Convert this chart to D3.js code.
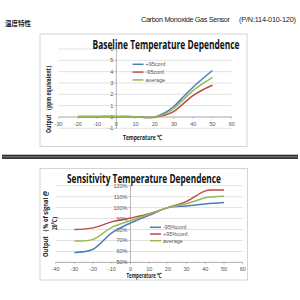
<!DOCTYPE html>
<html>
<head>
<meta charset="utf-8">
<script src="https://d3js.org/d3.v7.min.js"></script>
<style>
  body { margin: 0; background: white; }
  text { font-family: "Liberation Sans", Arial, sans-serif; }
</style>
</head>
<body>
<script>
// ---- data: baseline chart ----
let baseTemps = [-20, -10, 0, 10, 15, 18, 20, 25, 30, 35, 40, 45, 50];
let basePlus  = [0.05, 0.05, 0.05, 0.03, -0.04, -0.05, 0, 0.35, 0.95, 1.8, 2.65, 3.4, 4.1];
let baseMinus = [0.03, 0.03, 0.03, 0.02, -0.04, -0.05, 0, 0.15, 0.5, 1.2, 1.9, 2.4, 2.8];
let baseAvg   = [0.04, 0.04, 0.04, 0.03, -0.04, -0.05, 0, 0.25, 0.75, 1.55, 2.35, 2.95, 3.5];
let baseXTicks = [-30, -20, -10, 0, 10, 20, 30, 40, 50, 60];
let baseYTicks = [-1, 0, 1, 2, 3, 4, 5, 6];

// ---- data: sensitivity chart ----
let sensTemps = [-30, -20, -10, 0, 10, 20, 30, 40, 45, 50];
let sensMinus = [59, 62, 77, 86, 93, 100, 101.5, 103.3, 104, 104.6];
let sensPlus  = [80, 81.5, 87, 90.5, 94.5, 100, 105.7, 115.3, 116, 116];
let sensAvg   = [69.5, 71, 82, 88, 94, 100, 103.6, 109, 110, 110.3];
let sensXTicks = [-40, -30, -20, -10, 0, 10, 20, 30, 40, 50, 60];
let sensYTicks = [50, 60, 70, 80, 90, 100, 110, 120];

let blue = "#4a7ebb", red = "#be4b48", green = "#98b954";

let svg = d3.select("body").append("svg")
    .attr("width", 300)
    .attr("height", 300)
    .style("background-color", "white");

// header
svg.append("text").attr("x", 5).attr("y", 26)
    .style("font-family", "'Noto Sans CJK SC'").style("font-weight", "bold")
    .style("font-size", "6.5px").attr("fill", "#222").text("温度特性");
svg.append("text").attr("x", 141).attr("y", 22).style("font-size", "7.3px")
    .attr("fill", "#222").attr("textLength", 89).text("Carbon Monoxide Gas Sensor");
svg.append("text").attr("x", 239).attr("y", 22).style("font-size", "7.3px")
    .attr("fill", "#222").attr("textLength", 57).text("(P/N:114-010-120)");

// separator
svg.append("rect").attr("x", 2).attr("y", 154.7).attr("width", 296).attr("height", 4.2).attr("fill", "#2a2a2a");
svg.append("line").attr("x1", 2).attr("x2", 298).attr("y1", 156.8).attr("y2", 156.8)
    .attr("stroke", "#8a8a8a").attr("stroke-width", 1);

function chart(o) {
    let g = svg.append("g");
    g.append("rect").attr("x", o.box[0]).attr("y", o.box[1])
        .attr("width", o.box[2] - o.box[0]).attr("height", o.box[3] - o.box[1])
        .attr("fill", "white").attr("stroke", "#d4d4d4").attr("stroke-width", 1);

    let x = d3.scaleLinear().domain(o.xDomain).range(o.xRange);
    let y = d3.scaleLinear().domain(o.yDomain).range(o.yRange);

    // gridlines
    g.selectAll(".grid").data(o.yTicks).enter().append("line")
        .attr("x1", o.xRange[0]).attr("x2", o.xRange[1])
        .attr("y1", d => y(d)).attr("y2", d => y(d))
        .attr("stroke", "#d9d9d9").attr("stroke-width", 0.8);

    // axes lines
    g.append("line").attr("x1", x(0)).attr("x2", x(0))
        .attr("y1", o.yRange[0]).attr("y2", o.yRange[1])
        .attr("stroke", "#a6a6a6").attr("stroke-width", 0.8);
    g.append("line").attr("x1", o.xRange[0]).attr("x2", o.xRange[1])
        .attr("y1", y(o.xAxisAt)).attr("y2", y(o.xAxisAt))
        .attr("stroke", "#a6a6a6").attr("stroke-width", 0.8);

    // tick marks
    g.selectAll(".xt").data(o.xTicks).enter().append("line")
        .attr("x1", d => x(d)).attr("x2", d => x(d))
        .attr("y1", y(o.xAxisAt)).attr("y2", y(o.xAxisAt) + 2)
        .attr("stroke", "#a6a6a6").attr("stroke-width", 0.6);
    g.selectAll(".yt").data(o.yTicks).enter().append("line")
        .attr("x1", x(0) - 2).attr("x2", x(0))
        .attr("y1", d => y(d)).attr("y2", d => y(d))
        .attr("stroke", "#a6a6a6").attr("stroke-width", 0.6);

    // tick labels
    g.selectAll(".xl").data(o.xTicks).enter().append("text")
        .attr("x", d => x(d)).attr("y", o.xLabelY)
        .attr("text-anchor", "middle").style("font-size", "5.5px").attr("fill", "#555")
        .text(d => d);
    g.selectAll(".yl").data(o.yTicks).enter().append("text")
        .attr("x", x(0) - 3).attr("y", d => y(d) + 2)
        .attr("text-anchor", "end").style("font-size", "5.5px").attr("fill", "#555")
        .text(o.yFmt);

    // series
    let line = d3.line().x(d => x(d[0])).y(d => y(d[1])).curve(d3.curveCatmullRom.alpha(0.5));
    o.series.forEach(s => {
        g.append("path").datum(o.temps.map((t, i) => [t, s.values[i]]))
            .attr("d", line).attr("fill", "none")
            .attr("stroke", s.color).attr("stroke-width", 1.5);
    });

    // legend
    o.series.forEach((s, i) => {
        let ly = o.legend[1] + i * o.legendStep;
        g.append("line").attr("x1", o.legend[0]).attr("x2", o.legend[0] + 11)
            .attr("y1", ly).attr("y2", ly).attr("stroke", s.color).attr("stroke-width", 1.5);
        g.append("text").attr("x", o.legend[0] + 13).attr("y", ly + 2)
            .style("font-size", "5.5px").attr("fill", "#555").text(s.name);
    });

    // title
    g.append("text").attr("x", o.title[0]).attr("y", o.title[1]).attr("text-anchor", "middle")
        .style("font-family", "'Open Sans', sans-serif").style("font-weight", "bold")
        .style("font-size", "11.5px").attr("fill", "#111")
        .attr("textLength", o.title[2]).attr("lengthAdjust", "spacingAndGlyphs")
        .text(o.title[3]);

    // x label
    g.append("text").attr("x", o.xLab[0]).attr("y", o.xLab[1]).attr("text-anchor", "middle")
        .style("font-family", "'Open Sans', sans-serif").style("font-weight", "bold")
        .style("font-size", "7px").attr("fill", "#222")
        .attr("textLength", o.xLab[2]).attr("lengthAdjust", "spacingAndGlyphs")
        .text("Temperature ℃");

    // y label (rotated, possibly multi-line)
    o.yLab.forEach(l => {
        g.append("text").attr("transform", `translate(${l[0]},${l[1]}) rotate(-90)`)
            .attr("text-anchor", "middle")
            .style("font-family", "'Open Sans', sans-serif").style("font-weight", "bold")
            .style("font-size", "6.8px").attr("fill", "#222")
            .attr("textLength", l[2]).attr("lengthAdjust", "spacingAndGlyphs")
            .text(l[3]);
    });
}

chart({
    box: [40, 34, 247, 146.5],
    xDomain: [-30, 60], xRange: [58.7, 231.7],
    yDomain: [-1, 6], yRange: [128.3, 49],
    xAxisAt: 0,
    xTicks: baseXTicks, yTicks: baseYTicks,
    xLabelY: 126, yFmt: d => d,
    temps: baseTemps,
    series: [
        { name: "+95conf.", color: blue, values: basePlus },
        { name: "-95conf.", color: red, values: baseMinus },
        { name: "average", color: green, values: baseAvg }
    ],
    legend: [132.5, 64.3, 7.8],
    legendStep: 7.8,
    title: [166, 48.5, 147, "Baseline Temperature Dependence"],
    xLab: [142.5, 140, 39],
    yLab: [[51, 98, 70, "Output （ppm equivalent）"]]
});

chart({
    box: [40, 168.5, 247.5, 280],
    xDomain: [-40, 60], xRange: [55.7, 242.7],
    yDomain: [50, 120], yRange: [262.4, 185.7],
    xAxisAt: 50,
    xTicks: sensXTicks, yTicks: sensYTicks,
    xLabelY: 271, yFmt: d => d + "%",
    temps: sensTemps,
    series: [
        { name: "-95%conf.", color: blue, values: sensMinus },
        { name: "+95%conf.", color: red, values: sensPlus },
        { name: "average", color: green, values: sensAvg }
    ],
    legend: [150, 227.3, 6.7],
    legendStep: 6.7,
    title: [144, 183, 154, "Sensitivity Temperature Dependence"],
    xLab: [144, 278, 35],
    yLab: [[48, 224, 66, "Output （% of signal @"], [56.5, 222, 16, "20°C）"]]
});
</script>
</body>
</html>
